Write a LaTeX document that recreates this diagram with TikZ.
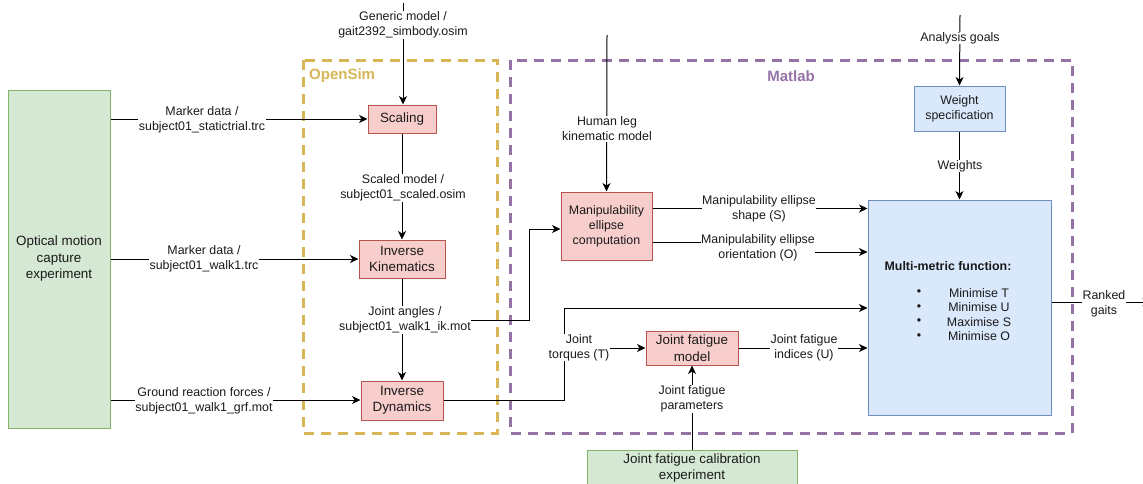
\documentclass[tikz,border=0pt]{standalone}
\usepackage{fontspec}
\setmainfont{Liberation Sans}
\usetikzlibrary{arrows.meta}
\definecolor{gfill}{HTML}{D5E8D4}
\definecolor{gline}{HTML}{82B366}
\definecolor{rfill}{HTML}{F8CECC}
\definecolor{rline}{HTML}{B85450}
\definecolor{bfill}{HTML}{DAE8FC}
\definecolor{bline}{HTML}{6C8EBF}
\definecolor{gold}{HTML}{D6B656}
\definecolor{purp}{HTML}{9673A6}
\definecolor{txt}{HTML}{1A1A1A}
\tikzset{
  nfont/.style={font=\fontsize{13.4}{16.5}\selectfont},
  sfont/.style={font=\fontsize{12.4}{15}\selectfont},
  gbox/.style={draw=gline, fill=gfill, line width=1pt, inner sep=0pt, align=center, nfont, text=txt},
  rbox/.style={draw=rline, fill=rfill, line width=1pt, inner sep=0pt, align=center, nfont, text=txt},
  bbox/.style={draw=bline, fill=bfill, line width=1pt, inner sep=0pt, align=center, sfont, text=txt},
  elabel/.style={fill=white, inner sep=0.5pt, align=center, sfont, text=txt},
  conn/.style={line width=1pt, draw=black},
  arr/.style={conn, -{Stealth[length=8.5pt, width=8pt, inset=2.5pt]}},
  cont/.style={line width=3pt, dash pattern=on 10pt off 7pt},
}
\begin{document}
\begin{tikzpicture}[x=1pt,y=-1pt]
\useasboundingbox (0,0) rectangle (1143,483);

% containers
\draw[cont, draw=gold] (303,60) rectangle (497,433);
\draw[cont, draw=purp] (510,60) rectangle (1072,433);
\node[anchor=west, text=gold, font=\bfseries\fontsize{15}{18}\selectfont, inner sep=0pt] (opensim) at (309,76) {OpenSim};
\node[text=purp, font=\bfseries\fontsize{15}{18}\selectfont, inner sep=0pt] (matlab) at (791,76) {Matlab};

% nodes
\node[gbox, minimum width=102pt, minimum height=338pt] (ocap) at (59,259) {Optical motion\\capture\\experiment};
\node[rbox, minimum width=68pt, minimum height=28pt] (scal) at (402,119) {Scaling};
\node[rbox, minimum width=86pt, minimum height=38pt] (ik) at (402,259) {Inverse\\Kinematics};
\node[rbox, minimum width=82pt, minimum height=39pt] (id) at (402,400.5) {Inverse\\Dynamics};
\node[rbox, sfont, minimum width=91pt, minimum height=68pt] (manip) at (606.5,226) {Manipulability\\ellipse\\computation};
\node[rbox, minimum width=92pt, minimum height=34pt] (jfm) at (692,348) {Joint fatigue\\model};
\node[gbox, minimum width=210pt, minimum height=36pt] (calib) at (692,468) {Joint fatigue calibration\\experiment};
\node[bbox, minimum width=91pt, minimum height=45pt] (ws) at (959.5,108.5) {Weight\\specification};
\node[bbox, minimum width=183pt, minimum height=215pt] (multi) at (959.5,307.5) {};

% multi-metric content
\node[sfont, font=\bfseries\fontsize{12.4}{15}\selectfont, inner sep=0pt, text=txt] (mtitle) at (948,266) {Multi-metric function:};
\node[sfont, inner sep=0pt, text=txt] (b1) at (919,293) {•};
\node[sfont, inner sep=0pt, text=txt] (b2) at (919,307.5) {•};
\node[sfont, inner sep=0pt, text=txt] (b3) at (919,322) {•};
\node[sfont, inner sep=0pt, text=txt] (b4) at (919,336.5) {•};
\node[sfont, inner sep=0pt, text=txt] (m1) at (979,293) {Minimise T};
\node[sfont, inner sep=0pt, text=txt] (m2) at (979,307.5) {Minimise U};
\node[sfont, inner sep=0pt, text=txt] (m3) at (979,322) {Maximise S};
\node[sfont, inner sep=0pt, text=txt] (m4) at (979,336.5) {Minimise O};

% free ends
\coordinate (gtop) at (403,3);
\coordinate (htop) at (607,35);
\coordinate (atop) at (960,15);
\coordinate (jaturn) at (529,320);
\coordinate (jaturn2) at (529,229);
\coordinate (idturn) at (564,400);
\coordinate (idturn2) at (564,308);
\coordinate (oturn) at (760,242);
\coordinate (oturn2) at (760,252);
\coordinate (rend) at (1151,302);

% connectors
\draw[arr] (gtop) -- (gtop |- scal.north);
\draw[arr] (scal.west -| ocap.east) -- (scal.west);
\draw[arr] (scal.south) -- (ik.north);
\draw[arr] (ik.west -| ocap.east) -- (ik.west);
\draw[arr] (ik.south) -- (id.north);
\draw[arr] (0,400 -| ocap.east) -- (id.west |- 0,400);
\draw[arr] (403,320) -- (jaturn) -- (jaturn2) -- (jaturn2 -| manip.west);
\draw[arr] (id.east |- idturn) -- (idturn) -- (idturn2) -- (idturn2 -| multi.west);
\draw[arr] (577,348) -- (jfm.west);
\draw[arr] (jfm.east) -- (jfm.east -| multi.west);
\draw[arr] (calib.north) -- (jfm.south);
\draw[arr] (htop) -- (manip.north);
\draw[arr] (manip.east |- 0,208.5) -- (multi.west |- 0,208.5);
\draw[arr] (manip.east |- oturn) -- (oturn) -- (oturn2) -- (oturn2 -| multi.west);
\draw[arr] (atop) -- (ws.north);
\draw[arr] (ws.south) -- (multi.north);
\draw[arr] (multi.east |- rend) -- (rend);

% edge labels
\node[elabel] (lgen) at (403,25) {Generic model /\\gait2392\_simbody.osim};
\node[elabel] (lms) at (202,119.5) {Marker data /\\subject01\_statictrial.trc};
\node[elabel] (lsc) at (403,188) {Scaled model /\\subject01\_scaled.osim};
\node[elabel] (lmw) at (204,259) {Marker data /\\subject01\_walk1.trc};
\node[elabel] (lja) at (405,320) {Joint angles /\\subject01\_walk1\_ik.mot};
\node[elabel] (lgrf) at (204,400.5) {Ground reaction forces /\\subject01\_walk1\_grf.mot};
\node[elabel] (ltq) at (579,347.5) {Joint\\torques (T)};
\node[elabel] (lfi) at (804,348) {Joint fatigue\\indices (U)};
\node[elabel] (lfp) at (692,399) {Joint fatigue\\parameters};
\node[elabel] (lhl) at (607,129) {Human leg\\kinematic model};
\node[elabel] (lshape) at (759,209) {Manipulability ellipse\\shape (S)};
\node[elabel] (lorient) at (758,248) {Manipulability ellipse\\orientation (O)};
\node[elabel] (lag) at (960,38) {Analysis goals};
\node[elabel] (lw) at (960,166) {Weights};
\node[elabel] (lrg) at (1104,303.5) {Ranked\\gaits};
\end{tikzpicture}
\end{document}
